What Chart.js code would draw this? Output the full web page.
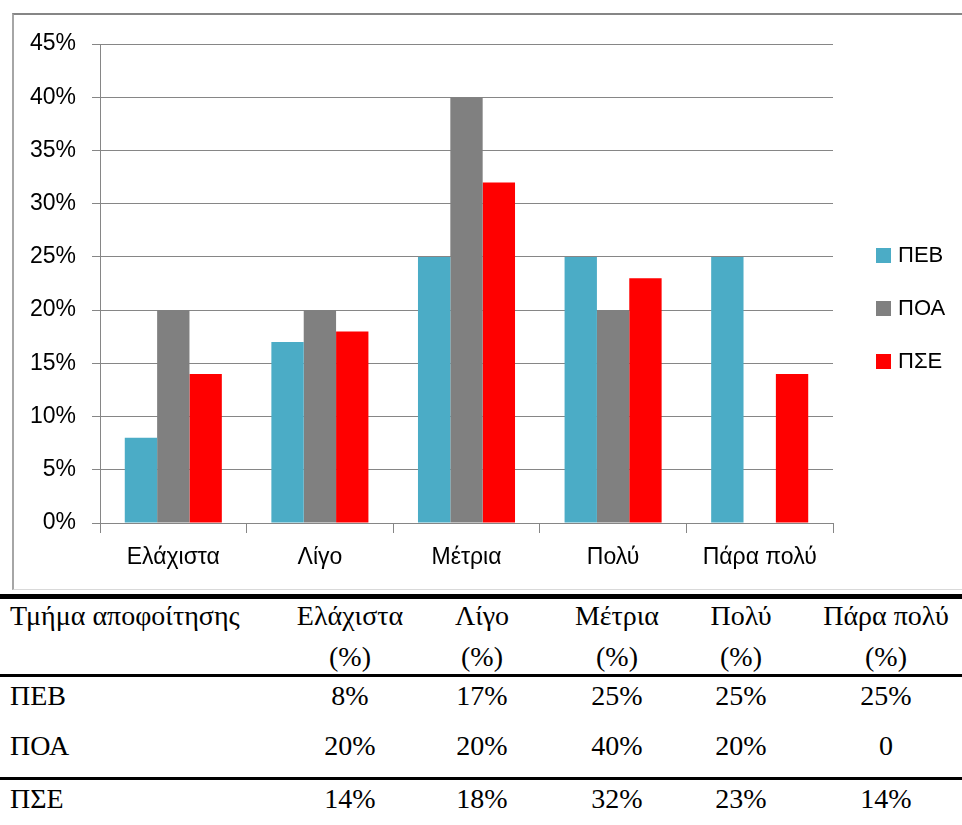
<!DOCTYPE html>
<html>
<head>
<meta charset="utf-8">
<script src="https://cdn.jsdelivr.net/npm/chart.js@4.4.0/dist/chart.umd.min.js"></script>
<style>
  body { margin: 0; background: #fff; width: 962px; height: 825px; overflow: hidden; position: relative; }
  #wrap { position: absolute; left: 0; top: 0; width: 962px; height: 592px; }
  #box { position: absolute; left: 12px; top: 13px; width: 960px; height: 574px;
         border-top: 2px solid #868686; border-left: 2px solid #a6a6a6; border-bottom: 1px solid #d9d9d9; pointer-events: none; }
  .leg { position: absolute; left: 876px; height: 20px; font: 22px 'Liberation Sans', Arial, sans-serif; color: #000; line-height: 20px; }
  .leg span { display: inline-block; width: 15px; height: 15px; vertical-align: -1px; margin-right: 7px; }
  .rule { position: absolute; left: 0; width: 962px; background: #000; }
  .row { position: absolute; left: 0; width: 980px; display: flex; font: 28px 'Liberation Serif', 'Times New Roman', serif; color: #000; }
  .row div { text-align: center; white-space: nowrap; }
  .row div:first-child { text-align: left; padding-left: 10px; box-sizing: border-box; }
</style>
</head>
<body>
<div id="wrap"><canvas id="grafico"></canvas></div>
<div id="box"></div>
<div id="legenda"></div>
<div id="tabela"></div>
<script>
// Dados do gráfico
const categorias = ['Ελάχιστα', 'Λίγο', 'Μέτρια', 'Πολύ', 'Πάρα πολύ'];
const tmimata = ['ΠΕΒ', 'ΠΟΑ', 'ΠΣΕ'];
const pev = [8, 17, 25, 25, 25];
const poa = [20, 20, 40, 20, 0];
const pse = [14, 18, 32, 23, 14];
const cores = ['#4BACC6', '#808080', '#FF0000'];

// Dados da tabela
const cabecalho = ['Τμήμα αποφοίτησης', 'Ελάχιστα', 'Λίγο', 'Μέτρια', 'Πολύ', 'Πάρα πολύ'];
const celulasTabela = {
  'ΠΕΒ': ['8%', '17%', '25%', '25%', '25%'],
  'ΠΟΑ': ['20%', '20%', '40%', '20%', '0'],
  'ΠΣΕ': ['14%', '18%', '32%', '23%', '14%']
};

const fonte = "'Liberation Sans', Arial, sans-serif";
const corGrade = '#868686';

const ctx = document.getElementById('grafico').getContext('2d');
new Chart(ctx, {
  type: 'bar',
  data: {
    labels: categorias,
    datasets: [pev, poa, pse].map((d, i) => ({
      label: tmimata[i],
      data: d,
      backgroundColor: cores[i],
      borderWidth: 0,
      categoryPercentage: 0.662,
      barPercentage: 1
    }))
  },
  options: {
    responsive: true,
    maintainAspectRatio: false,
    animation: false,
    layout: { padding: { left: 0, top: 44, right: 129, bottom: 0 } },
    plugins: { legend: { display: false }, tooltip: { enabled: false } },
    scales: {
      x: {
        afterFit: s => { s.height = 69; },
        grid: { offset: true, drawOnChartArea: false, drawTicks: true, tickLength: 10, color: corGrade, lineWidth: 1 },
        border: { color: corGrade, width: 1 },
        ticks: { color: '#000', font: { family: fonte, size: 23 }, padding: 11 }
      },
      y: {
        min: 0,
        max: 45,
        afterFit: s => { s.width = 100; },
        grid: { color: corGrade, lineWidth: 1, drawTicks: true, tickLength: 8 },
        border: { color: corGrade, width: 1 },
        ticks: { stepSize: 5, color: '#000', font: { family: fonte, size: 23 }, padding: 16, callback: v => v + '%' }
      }
    }
  }
});

// Legenda
const legenda = document.getElementById('legenda');
const topoLegenda = [245, 298, 351];
tmimata.forEach((t, i) => {
  const el = document.createElement('div');
  el.className = 'leg';
  el.style.top = topoLegenda[i] + 'px';
  el.innerHTML = '<span style="background:' + cores[i] + '"></span>' + t;
  legenda.appendChild(el);
});

// Tabela
const tabela = document.getElementById('tabela');
const larguras = [290, 120, 144, 126, 122, 168];
function linha(celulas, topo, altura) {
  const r = document.createElement('div');
  r.className = 'row';
  r.style.top = topo + 'px';
  r.style.lineHeight = altura + 'px';
  celulas.forEach((c, i) => {
    const d = document.createElement('div');
    d.style.width = larguras[i] + 'px';
    d.innerHTML = c;
    r.appendChild(d);
  });
  tabela.appendChild(r);
}
function regua(topo, esp) {
  const l = document.createElement('div');
  l.className = 'rule';
  l.style.top = topo + 'px';
  l.style.height = esp + 'px';
  tabela.appendChild(l);
}
regua(594, 5);
linha(cabecalho.map((h, i) => i === 0 ? h : h + '<br>(%)'), 595, 41);
regua(674, 3);
const topos = [671, 721, 774];
tmimata.forEach((t, i) => linha([t].concat(celulasTabela[t]), topos[i], 50));
regua(777, 3);
</script>
</body>
</html>
